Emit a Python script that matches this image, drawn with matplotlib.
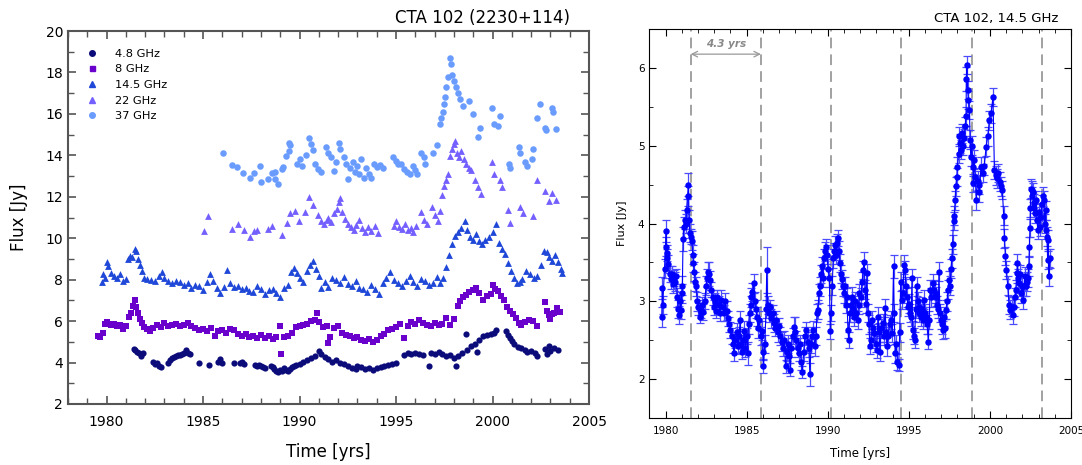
import matplotlib
matplotlib.use("Agg")
import matplotlib.pyplot as plt
from matplotlib.lines import Line2D
from matplotlib.ticker import MultipleLocator

# ---- left panel: multi-frequency light curves (offset for display) ----
t48 = [1981.40, 1981.50, 1981.60, 1981.70, 1981.80, 1981.90, 1982.40, 1982.50, 1982.60, 1982.70, 1982.80,
       1983.20, 1983.30, 1983.40, 1983.50, 1983.60, 1983.70, 1983.80, 1983.90, 1984.00, 1984.10, 1984.20, 1984.30,
       1984.80, 1985.30, 1985.80, 1985.90, 1986.00, 1986.60, 1986.90, 1987.00, 1987.10,
       1987.70, 1987.80, 1987.90, 1988.00, 1988.10, 1988.20, 1988.50, 1988.60, 1988.70, 1988.80, 1988.90,
       1989.00, 1989.10, 1989.20, 1989.30, 1989.40, 1989.50, 1989.60, 1989.70, 1989.80, 1990.00, 1990.20,
       1990.40, 1990.60, 1990.80, 1991.00, 1991.10, 1991.30, 1991.50, 1991.70, 1991.90, 1992.10, 1992.30,
       1992.50, 1992.70, 1992.90, 1993.00, 1993.20, 1993.40, 1993.60, 1993.80, 1994.00, 1994.20, 1994.40,
       1994.60, 1994.80, 1995.00, 1995.40, 1995.60, 1995.80, 1996.00, 1996.20, 1996.40, 1996.70, 1996.80,
       1997.00, 1997.20, 1997.40, 1997.60, 1997.80, 1998.00, 1998.10, 1998.20, 1998.40, 1998.60, 1998.70,
       1998.90, 1999.10, 1999.20, 1999.30, 1999.50, 1999.70, 1999.90, 2000.10, 2000.20, 2000.70, 2000.80,
       2000.90, 2001.00, 2001.10, 2001.30, 2001.50, 2001.70, 2001.80, 2002.00, 2002.20, 2002.30, 2002.70,
       2002.80, 2002.90, 2003.00, 2003.20, 2003.40]
f48 = [4.65, 4.60, 4.50, 4.45, 4.30, 4.45, 4.05, 3.95, 4.00, 3.85, 3.80,
       4.00, 4.10, 4.20, 4.25, 4.30, 4.35, 4.35, 4.40, 4.45, 4.60, 4.45, 4.40,
       4.00, 3.90, 4.05, 4.15, 4.00, 3.97, 4.00, 4.05, 3.95,
       3.90, 3.85, 3.90, 3.85, 3.80, 3.75, 3.85, 3.80, 3.70, 3.60, 3.55,
       3.65, 3.60, 3.75, 3.65, 3.60, 3.70, 3.80, 3.85, 3.90, 3.95, 4.05,
       4.10, 4.20, 4.30, 4.55, 4.40, 4.25, 4.15, 4.05, 4.10, 4.00, 3.95,
       3.85, 3.75, 3.70, 3.85, 3.80, 3.70, 3.75, 3.65, 3.75, 3.80, 3.85,
       3.90, 3.95, 4.00, 4.35, 4.45, 4.40, 4.45, 4.40, 4.35, 3.85, 4.45,
       4.40, 4.50, 4.40, 4.30, 4.35, 4.20, 3.85, 4.30, 4.45, 5.40, 4.60,
       4.80, 4.90, 4.50, 5.10, 5.30, 5.35, 5.40, 5.45, 5.55, 5.50, 5.35,
       5.20, 5.05, 4.90, 4.75, 4.70, 4.60, 4.50, 4.55, 4.45, 4.30, 4.65,
       4.40, 4.80, 4.55, 4.70, 4.60]

t8 = [1979.55, 1979.65, 1979.80, 1979.90, 1980.00, 1980.10, 1980.25, 1980.40, 1980.55, 1980.70, 1980.85, 1981.00,
      1981.15, 1981.25, 1981.35, 1981.45, 1981.55, 1981.65, 1981.75, 1981.85, 1981.95, 1982.10, 1982.25,
      1982.40, 1982.60, 1982.80, 1983.00, 1983.20, 1983.40, 1983.60, 1983.80, 1984.00, 1984.20, 1984.40,
      1984.60, 1984.80, 1985.00, 1985.20, 1985.40, 1985.60, 1985.80, 1986.00, 1986.20, 1986.40, 1986.60,
      1986.80, 1987.00, 1987.20, 1987.40, 1987.60, 1987.80, 1988.00, 1988.20, 1988.40, 1988.60, 1988.80,
      1989.00, 1989.05, 1989.20, 1989.40, 1989.60, 1989.80, 1990.00, 1990.20, 1990.40, 1990.60, 1990.80,
      1990.90, 1991.00, 1991.20, 1991.40, 1991.50, 1991.60, 1991.80, 1992.00, 1992.20, 1992.40, 1992.60,
      1992.80, 1993.00, 1993.20, 1993.40, 1993.60, 1993.80, 1994.00, 1994.20, 1994.40, 1994.60, 1994.80,
      1995.00, 1995.20, 1995.40, 1995.60, 1995.80, 1996.00, 1996.20, 1996.40, 1996.60, 1996.80, 1997.00,
      1997.20, 1997.40, 1997.60, 1997.80, 1998.00, 1998.20, 1998.30, 1998.45, 1998.60, 1998.80, 1999.00,
      1999.15, 1999.30, 1999.50, 1999.70, 1999.90, 2000.00, 2000.15, 2000.30, 2000.45, 2000.60, 2000.75,
      2000.90, 2001.05, 2001.20, 2001.35, 2001.50, 2001.70, 2001.90, 2002.10, 2002.30, 2002.70, 2002.80,
      2002.90, 2003.00, 2003.10, 2003.20, 2003.35, 2003.50]
f8 = [5.30, 5.25, 5.45, 5.85, 5.95, 5.85, 5.80, 5.85, 5.75, 5.80, 5.60, 5.75,
      6.20, 6.40, 6.75, 7.00, 6.70, 6.40, 6.10, 5.90, 5.70, 5.60, 5.50,
      5.65, 5.80, 5.70, 5.90, 5.75, 5.80, 5.85, 5.75, 5.80, 5.90, 5.75,
      5.65, 5.55, 5.60, 5.50, 5.65, 5.30, 5.50, 5.55, 5.45, 5.60, 5.55,
      5.40, 5.30, 5.40, 5.25, 5.30, 5.20, 5.35, 5.20, 5.30, 5.15, 5.25,
      5.75, 4.40, 5.25, 5.30, 5.45, 5.70, 5.75, 5.80, 5.85, 6.00, 6.05,
      6.40, 5.95, 5.70, 5.75, 4.95, 5.25, 5.65, 5.75, 5.45, 5.35, 5.30,
      5.20, 5.25, 5.10, 5.05, 5.15, 5.00, 5.10, 5.30, 5.40, 5.55, 5.60,
      5.70, 5.85, 5.20, 5.75, 5.95, 5.85, 6.05, 5.90, 5.80, 5.75, 5.90,
      5.80, 5.85, 6.15, 5.80, 6.10, 6.75, 6.95, 7.15, 7.25, 7.40, 7.50,
      7.60, 7.35, 7.00, 7.20, 7.30, 7.75, 7.55, 7.45, 7.20, 7.00, 6.70,
      6.50, 6.35, 6.15, 5.90, 5.80, 5.95, 6.05, 6.00, 5.75, 6.90, 6.50,
      6.30, 6.10, 6.35, 6.40, 6.65, 6.45]

t145 = [1979.75, 1979.80, 1979.90, 1980.00, 1980.10, 1980.25, 1980.40, 1980.55, 1980.70, 1980.85, 1981.00,
        1981.10, 1981.20, 1981.30, 1981.45, 1981.55, 1981.65, 1981.75, 1981.85, 1981.95, 1982.10,
        1982.30, 1982.50, 1982.70, 1982.85, 1983.00, 1983.20, 1983.40, 1983.60, 1983.80, 1984.00, 1984.20,
        1984.40, 1984.60, 1984.80, 1985.00, 1985.20, 1985.35, 1985.50, 1985.70, 1985.90, 1986.10, 1986.25,
        1986.40, 1986.60, 1986.80, 1987.00, 1987.20, 1987.40, 1987.60, 1987.80, 1988.00, 1988.20, 1988.40,
        1988.60, 1988.80, 1989.00, 1989.20, 1989.40, 1989.55, 1989.70, 1989.85, 1990.00, 1990.20, 1990.40,
        1990.55, 1990.70, 1990.85, 1991.00, 1991.10, 1991.30, 1991.50, 1991.70, 1991.90, 1992.10, 1992.30,
        1992.50, 1992.70, 1992.90, 1993.10, 1993.30, 1993.50, 1993.70, 1993.90, 1994.10, 1994.30, 1994.50,
        1994.70, 1994.90, 1995.10, 1995.30, 1995.50, 1995.70, 1995.90, 1996.10, 1996.30, 1996.50, 1996.70,
        1996.90, 1997.10, 1997.30, 1997.45, 1997.60, 1997.75, 1997.90, 1998.05, 1998.20, 1998.35, 1998.55,
        1998.70, 1998.85, 1999.00, 1999.15, 1999.30, 1999.45, 1999.60, 1999.80, 2000.00, 2000.20, 2000.35,
        2000.50, 2000.65, 2000.80, 2000.95, 2001.10, 2001.25, 2001.40, 2001.55, 2001.75, 2001.95, 2002.15,
        2002.30, 2002.50, 2002.65, 2002.80, 2002.95, 2003.10, 2003.25, 2003.40, 2003.55, 2003.60]
f145 = [7.90, 8.25, 8.10, 8.85, 8.65, 8.30, 8.20, 8.10, 8.25, 7.95, 8.05,
        9.00, 9.15, 9.10, 9.50, 9.40, 9.00, 8.70, 8.40, 8.10, 8.05,
        8.00, 7.95, 8.20, 8.35, 8.10, 7.95, 7.85, 7.95, 7.90, 7.75, 7.85,
        7.60, 7.75, 7.70, 7.50, 7.90, 8.25, 7.95, 7.60, 7.35, 7.65, 8.45,
        7.85, 7.65, 7.70, 7.55, 7.60, 7.45, 7.40, 7.70, 7.55, 7.30, 7.50,
        7.55, 7.35, 7.15, 7.60, 7.75, 8.35, 8.55, 8.30, 8.10, 7.90, 8.40,
        8.70, 8.90, 8.50, 8.20, 7.60, 7.90, 7.65, 8.10, 8.00, 7.85, 8.15,
        7.80, 7.70, 7.95, 7.60, 7.55, 7.40, 7.75, 7.55, 7.30, 7.85, 8.10,
        8.35, 8.00, 7.85, 7.70, 7.95, 8.20, 7.90, 7.70, 8.05, 7.95, 7.75,
        7.85, 8.15, 7.85, 8.10, 8.60, 9.20, 9.70, 10.10, 10.30, 10.50, 10.85,
        10.40, 10.05, 9.90, 10.20, 9.85, 9.70, 9.90, 10.05, 10.30, 10.70, 9.75,
        9.50, 9.25, 8.80, 8.40, 8.10, 7.85, 7.90, 8.05, 8.40, 8.25, 8.10,
        8.20, 8.70, 9.40, 9.35, 9.10, 8.90, 9.20, 8.85, 8.50, 8.30]

t22 = [1985.07, 1985.28, 1986.50, 1986.80, 1987.10, 1987.45, 1987.65, 1987.80, 1988.35, 1988.55, 1989.10,
       1989.35, 1989.50, 1989.75, 1989.95, 1990.30, 1990.50, 1990.70, 1990.95, 1991.10, 1991.25, 1991.40,
       1991.50, 1991.65, 1991.80, 1991.95, 1992.05, 1992.12, 1992.20, 1992.35, 1992.50, 1992.65, 1992.80,
       1992.95, 1993.10, 1993.25, 1993.40, 1993.55, 1993.70, 1993.90, 1994.05, 1994.90, 1995.00, 1995.15,
       1995.30, 1995.45, 1995.60, 1995.75, 1995.90, 1996.05, 1996.30, 1996.45, 1996.60, 1996.85, 1997.00,
       1997.15, 1997.30, 1997.40, 1997.50, 1997.60, 1997.70, 1997.80, 1997.90, 1998.00, 1998.06, 1998.15,
       1998.25, 1998.35, 1998.50, 1998.65, 1998.80, 1998.90, 1999.10, 1999.25, 1999.40, 1999.95, 2000.05,
       2000.40, 2000.50, 2000.80, 2000.90, 2001.40, 2001.60, 2002.10, 2002.30, 2002.70, 2002.90, 2003.10,
       2003.30]
f22 = [10.37, 11.06, 10.43, 10.70, 10.40, 10.05, 10.35, 10.40, 10.45, 10.60, 10.15,
       10.75, 11.20, 11.30, 10.85, 11.25, 11.97, 11.58, 11.10, 10.85, 10.70, 10.90,
       11.00, 10.80, 11.20, 11.40, 11.75, 11.95, 11.25, 10.95, 10.70, 10.55, 10.40,
       10.65, 10.90, 10.50, 10.30, 10.55, 10.35, 10.60, 10.25, 10.60, 10.85, 10.55,
       10.45, 10.70, 10.40, 10.50, 10.30, 10.60, 11.25, 10.90, 10.70, 11.50, 11.10,
       10.85, 11.30, 12.10, 12.50, 12.80, 13.10, 13.95, 14.30, 14.55, 14.70, 14.10,
       13.90, 14.20, 13.80, 13.60, 13.40, 13.30, 12.80, 12.45, 12.15, 13.67, 13.10,
       12.80, 12.45, 11.35, 10.75, 11.50, 11.20, 11.05, 12.80, 12.30, 11.80, 12.20,
       11.85]

t37 = [1986.04, 1986.50, 1986.77, 1987.07, 1987.43, 1987.64, 1987.95, 1987.99, 1988.37, 1988.56, 1988.72,
       1988.75, 1988.89, 1989.10, 1989.15, 1989.30, 1989.45, 1989.47, 1989.50, 1989.85, 1990.00, 1990.15,
       1990.33, 1990.47, 1990.60, 1990.68, 1990.80, 1990.95, 1991.10, 1991.37, 1991.50, 1991.65, 1991.80,
       1991.90, 1992.06, 1992.12, 1992.30, 1992.40, 1992.50, 1992.60, 1992.75, 1992.85, 1993.00, 1993.10,
       1993.20, 1993.36, 1993.45, 1993.60, 1993.70, 1993.85, 1994.00, 1994.15, 1994.30, 1994.85, 1995.00,
       1995.10, 1995.25, 1995.40, 1995.55, 1995.70, 1995.90, 1996.00, 1996.10, 1996.30, 1996.45, 1996.50,
       1996.90, 1997.10, 1997.27, 1997.35, 1997.44, 1997.48, 1997.55, 1997.60, 1997.68, 1997.79, 1997.85,
       1997.92, 1998.00, 1998.10, 1998.20, 1998.30, 1998.45, 1998.80, 1999.00, 1999.25, 1999.37, 1999.99,
       2000.06, 2000.30, 2000.40, 2000.85, 2000.90, 2001.38, 2001.42, 2001.70, 2001.80, 2002.05, 2002.10,
       2002.30, 2002.48, 2002.70, 2002.78, 2003.07, 2003.15, 2003.30]
f37 = [14.13, 13.53, 13.43, 13.17, 12.90, 13.15, 13.50, 12.73, 12.86, 13.13, 13.20,
       12.86, 12.60, 13.33, 13.43, 13.98, 14.20, 14.58, 14.50, 13.60, 13.80, 13.50,
       14.00, 14.85, 14.56, 14.24, 13.60, 13.35, 13.20, 14.40, 14.10, 13.90, 13.25,
       13.70, 14.60, 14.30, 13.90, 13.60, 12.85, 13.40, 13.70, 13.20, 13.50, 13.10,
       13.80, 12.90, 13.40, 13.10, 12.90, 13.60, 13.45, 13.55, 13.40, 13.90, 13.75,
       13.60, 13.60, 13.35, 13.20, 13.10, 13.50, 13.30, 13.10, 14.10, 13.90, 13.60,
       14.10, 14.50, 15.50, 15.80, 16.10, 16.50, 16.80, 17.30, 17.80, 18.70, 18.40,
       17.90, 17.60, 17.30, 17.00, 16.70, 16.40, 16.60, 16.00, 14.90, 15.30, 16.30,
       15.50, 15.40, 15.90, 13.60, 13.40, 14.40, 14.10, 13.70, 13.50, 13.80, 14.30,
       15.80, 16.50, 15.30, 15.20, 16.30, 16.10, 15.25]

# ---- right panel: 14.5 GHz flux with errors ----
tr = [1979.77, 1979.80, 1979.83, 1979.94, 1980.00, 1980.04, 1980.08, 1980.12, 1980.18, 1980.25, 1980.32, 1980.40,
      1980.45, 1980.52, 1980.60, 1980.66, 1980.72, 1980.78, 1980.84, 1980.90, 1980.95, 1981.00, 1981.04, 1981.08,
      1981.12, 1981.18, 1981.25, 1981.30, 1981.36, 1981.41, 1981.45, 1981.50, 1981.56, 1981.62, 1981.68, 1981.72,
      1981.78, 1981.84, 1981.90, 1981.96, 1982.02, 1982.10, 1982.18, 1982.26, 1982.34, 1982.42, 1982.50, 1982.56,
      1982.62, 1982.70, 1982.76, 1982.82, 1982.90, 1982.96, 1983.04, 1983.12, 1983.20, 1983.28, 1983.36, 1983.44,
      1983.52, 1983.60, 1983.68, 1983.76, 1983.84, 1983.92, 1984.00, 1984.08, 1984.16, 1984.22, 1984.30, 1984.38,
      1984.46, 1984.54, 1984.60, 1984.66, 1984.72, 1984.80, 1984.86, 1984.92, 1985.00, 1985.06, 1985.12, 1985.18,
      1985.24, 1985.30, 1985.36, 1985.44, 1985.50, 1985.56, 1985.64, 1985.70, 1985.78, 1985.86, 1985.92, 1985.98,
      1986.04, 1986.12, 1986.20, 1986.24, 1986.30, 1986.36, 1986.44, 1986.52, 1986.60, 1986.68, 1986.76, 1986.84,
      1986.92, 1987.00, 1987.08, 1987.16, 1987.24, 1987.32, 1987.40, 1987.48, 1987.56, 1987.64, 1987.70, 1987.76,
      1987.84, 1987.92, 1987.98, 1988.06, 1988.14, 1988.22, 1988.30, 1988.36, 1988.44, 1988.52, 1988.60, 1988.68,
      1988.76, 1988.84, 1988.90, 1988.98, 1989.06, 1989.12, 1989.20, 1989.28, 1989.34, 1989.40, 1989.46, 1989.52,
      1989.58, 1989.64, 1989.70, 1989.76, 1989.82, 1989.90, 1989.96, 1990.02, 1990.10, 1990.16, 1990.22, 1990.28,
      1990.34, 1990.40, 1990.46, 1990.52, 1990.58, 1990.63, 1990.70, 1990.76, 1990.82, 1990.88, 1990.94, 1991.00,
      1991.06, 1991.12, 1991.18, 1991.25, 1991.30, 1991.36, 1991.42, 1991.48, 1991.56, 1991.62, 1991.70, 1991.76,
      1991.84, 1991.90, 1991.96, 1992.04, 1992.12, 1992.20, 1992.25, 1992.30, 1992.36, 1992.42, 1992.48, 1992.54,
      1992.60, 1992.66, 1992.72, 1992.80, 1992.88, 1992.96, 1993.02, 1993.10, 1993.16, 1993.22, 1993.30, 1993.38,
      1993.46, 1993.54, 1993.60, 1993.66, 1993.74, 1993.82, 1993.90, 1993.98, 1994.06, 1994.10, 1994.16, 1994.24,
      1994.30, 1994.38, 1994.44, 1994.50, 1994.56, 1994.64, 1994.70, 1994.76, 1994.82, 1994.90, 1994.96, 1995.02,
      1995.08, 1995.14, 1995.20, 1995.24, 1995.30, 1995.36, 1995.42, 1995.48, 1995.54, 1995.60, 1995.66, 1995.74,
      1995.82, 1995.88, 1995.94, 1996.00, 1996.08, 1996.14, 1996.20, 1996.26, 1996.32, 1996.40, 1996.48, 1996.56,
      1996.64, 1996.70, 1996.76, 1996.82, 1996.86, 1996.92, 1996.98, 1997.04, 1997.10, 1997.16, 1997.22, 1997.30,
      1997.36, 1997.42, 1997.48, 1997.54, 1997.60, 1997.66, 1997.70, 1997.76, 1997.80, 1997.86, 1997.90, 1997.96,
      1998.00, 1998.07, 1998.12, 1998.18, 1998.24, 1998.30, 1998.36, 1998.42, 1998.48, 1998.53, 1998.55, 1998.58,
      1998.63, 1998.68, 1998.74, 1998.78, 1998.82, 1998.88, 1998.95, 1998.98, 1999.02, 1999.10, 1999.16, 1999.24,
      1999.30, 1999.36, 1999.45, 1999.55, 1999.65, 1999.77, 1999.87, 1999.97, 2000.08, 2000.19, 2000.28, 2000.36,
      2000.44, 2000.52, 2000.60, 2000.70, 2000.77, 2000.85, 2000.90, 2000.96, 2001.02, 2001.10, 2001.18, 2001.26,
      2001.34, 2001.40, 2001.46, 2001.54, 2001.60, 2001.66, 2001.70, 2001.76, 2001.82, 2001.88, 2001.94, 2002.00,
      2002.05, 2002.10, 2002.16, 2002.22, 2002.28, 2002.34, 2002.40, 2002.44, 2002.47, 2002.50, 2002.53, 2002.57,
      2002.62, 2002.66, 2002.70, 2002.74, 2002.78, 2002.84, 2002.90, 2002.96, 2003.02, 2003.08, 2003.14, 2003.20,
      2003.26, 2003.32, 2003.38, 2003.44, 2003.48, 2003.52, 2003.56, 2003.60, 2003.64, 2003.68]
sr = [2.80, 3.17, 2.95, 3.42, 3.70, 3.90, 3.55, 3.62, 3.48, 3.35, 3.28, 3.35,
      3.22, 3.30, 3.25, 3.32, 3.05, 2.90, 2.82, 3.00, 2.89, 3.10, 3.20, 3.80,
      3.95, 4.05, 4.00, 4.18, 4.35, 4.50, 4.05, 3.88, 3.83, 3.78, 3.60, 3.49,
      3.38, 3.25, 3.19, 3.00, 2.92, 2.80, 2.88, 2.95, 2.86, 3.00, 3.20, 3.30,
      3.38, 3.35, 3.27, 3.15, 3.05, 2.92, 3.00, 2.88, 3.05, 2.95, 2.85, 3.02,
      2.92, 2.85, 3.00, 2.88, 2.78, 2.70, 2.63, 2.55, 2.45, 2.33, 2.50, 2.60,
      2.42, 2.55, 2.76, 2.45, 2.35, 2.50, 2.62, 2.40, 2.55, 2.33, 2.70, 2.85,
      2.95, 3.05, 3.12, 3.23, 3.00, 2.90, 2.80, 2.65, 2.76, 2.55, 2.62, 2.35,
      2.16, 2.45, 2.90, 3.40, 2.95, 2.85, 2.92, 2.78, 2.85, 2.72, 2.65, 2.76,
      2.60, 2.68, 2.55, 2.48, 2.40, 2.50, 2.16, 2.35, 2.45, 2.30, 2.12, 2.40,
      2.55, 2.67, 2.60, 2.50, 2.40, 2.33, 2.45, 2.22, 2.09, 2.35, 2.55, 2.63,
      2.48, 2.40, 2.06, 2.45, 2.55, 2.63, 2.42, 2.55, 2.85, 2.89, 3.10, 3.19,
      3.35, 3.45, 3.30, 3.55, 3.64, 3.70, 3.60, 3.42, 3.30, 2.61, 2.85, 3.20,
      3.55, 3.65, 3.72, 3.60, 3.75, 3.81, 3.65, 3.49, 3.35, 3.28, 3.19, 3.10,
      3.19, 2.95, 3.05, 2.63, 2.50, 2.85, 2.95, 3.06, 2.90, 2.80, 3.00, 2.85,
      2.76, 2.95, 3.10, 3.05, 3.25, 3.40, 3.51, 3.15, 2.97, 3.36, 2.85, 2.70,
      2.42, 2.50, 2.76, 2.65, 2.59, 2.45, 2.37, 2.80, 2.60, 2.35, 2.65, 2.72,
      2.55, 2.91, 2.60, 2.42, 2.55, 2.70, 2.76, 2.59, 3.45, 2.85, 2.33, 2.45,
      2.22, 2.18, 2.60, 3.25, 3.02, 3.10, 3.47, 3.40, 3.19, 3.05, 2.93, 2.97,
      2.85, 2.80, 3.30, 2.63, 2.55, 2.50, 2.90, 3.19, 3.00, 2.93, 2.85, 2.80,
      2.90, 2.76, 3.02, 2.85, 2.80, 2.70, 2.48, 2.76, 3.15, 3.05, 3.23, 3.15,
      3.10, 3.06, 2.95, 2.90, 3.38, 2.85, 2.76, 2.70, 2.63, 2.80, 2.65, 2.89,
      3.00, 3.15, 3.27, 3.20, 3.42, 3.55, 3.73, 4.10, 4.03, 4.30, 4.48, 4.60,
      4.73, 4.90, 5.12, 5.03, 4.95, 5.16, 5.00, 5.10, 5.25, 5.38, 5.86, 6.04,
      5.72, 5.59, 5.46, 5.08, 4.86, 5.00, 4.73, 4.52, 4.82, 4.60, 4.30, 4.55,
      4.50, 4.40, 4.73, 4.65, 4.74, 4.99, 5.12, 5.33, 5.42, 5.63, 4.69, 4.62,
      4.58, 4.65, 4.54, 4.48, 4.43, 4.10, 3.81, 3.58, 3.40, 3.20, 2.95, 2.89,
      2.93, 2.82, 2.93, 3.05, 3.15, 3.36, 3.49, 3.30, 3.23, 3.35, 3.10, 3.19,
      3.02, 3.19, 3.32, 3.19, 3.25, 3.30, 3.45, 3.70, 3.94, 4.20, 4.45, 4.43,
      4.35, 4.40, 4.26, 4.20, 4.13, 4.30, 4.05, 3.92, 4.15, 3.96, 4.09, 4.25,
      4.35, 4.30, 4.00, 4.17, 3.92, 3.83, 3.53, 3.79, 3.32, 3.55]
er = [0.13, 0.14, 0.12, 0.12, 0.12, 0.14, 0.12, 0.10, 0.12, 0.10, 0.12, 0.10,
      0.12, 0.10, 0.12, 0.10, 0.12, 0.12, 0.12, 0.12, 0.12, 0.12, 0.12, 0.15,
      0.14, 0.12, 0.12, 0.13, 0.13, 0.15, 0.12, 0.12, 0.10, 0.12, 0.12, 0.12,
      0.12, 0.12, 0.12, 0.12, 0.10, 0.08, 0.10, 0.10, 0.10, 0.10, 0.12, 0.12,
      0.12, 0.15, 0.12, 0.10, 0.10, 0.10, 0.10, 0.10, 0.10, 0.12, 0.10, 0.12,
      0.10, 0.10, 0.10, 0.12, 0.10, 0.10, 0.10, 0.10, 0.12, 0.10, 0.10, 0.12,
      0.10, 0.12, 0.12, 0.12, 0.10, 0.12, 0.12, 0.12, 0.10, 0.15, 0.12, 0.12,
      0.12, 0.12, 0.12, 0.12, 0.12, 0.12, 0.12, 0.12, 0.12, 0.12, 0.12, 0.10,
      0.08, 0.12, 0.12, 0.30, 0.12, 0.12, 0.10, 0.12, 0.10, 0.12, 0.10, 0.12,
      0.12, 0.10, 0.12, 0.12, 0.10, 0.12, 0.08, 0.12, 0.12, 0.10, 0.08, 0.12,
      0.10, 0.12, 0.20, 0.12, 0.12, 0.10, 0.12, 0.10, 0.08, 0.12, 0.12, 0.10,
      0.12, 0.12, 0.15, 0.12, 0.12, 0.12, 0.12, 0.12, 0.12, 0.12, 0.12, 0.12,
      0.12, 0.12, 0.12, 0.12, 0.12, 0.10, 0.12, 0.12, 0.12, 0.10, 0.10, 0.12,
      0.12, 0.10, 0.12, 0.12, 0.12, 0.10, 0.12, 0.12, 0.12, 0.12, 0.12, 0.12,
      0.12, 0.10, 0.12, 0.10, 0.10, 0.12, 0.12, 0.12, 0.12, 0.12, 0.12, 0.12,
      0.12, 0.12, 0.12, 0.12, 0.12, 0.12, 0.12, 0.12, 0.12, 0.12, 0.12, 0.12,
      0.10, 0.10, 0.12, 0.12, 0.12, 0.10, 0.10, 0.12, 0.12, 0.12, 0.12, 0.12,
      0.12, 0.12, 0.12, 0.12, 0.12, 0.12, 0.12, 0.12, 0.15, 0.12, 0.12, 0.12,
      0.10, 0.08, 0.12, 0.12, 0.12, 0.12, 0.12, 0.12, 0.12, 0.12, 0.12, 0.12,
      0.12, 0.12, 0.12, 0.12, 0.10, 0.10, 0.12, 0.12, 0.12, 0.12, 0.12, 0.12,
      0.12, 0.12, 0.12, 0.12, 0.12, 0.12, 0.10, 0.12, 0.12, 0.12, 0.12, 0.12,
      0.12, 0.12, 0.12, 0.12, 0.12, 0.12, 0.12, 0.12, 0.12, 0.12, 0.12, 0.12,
      0.12, 0.12, 0.12, 0.12, 0.12, 0.12, 0.12, 0.12, 0.12, 0.12, 0.12, 0.12,
      0.12, 0.12, 0.12, 0.12, 0.12, 0.12, 0.12, 0.12, 0.12, 0.12, 0.15, 0.12,
      0.12, 0.12, 0.12, 0.12, 0.12, 0.12, 0.12, 0.12, 0.12, 0.12, 0.12, 0.12,
      0.12, 0.12, 0.12, 0.12, 0.12, 0.12, 0.12, 0.12, 0.12, 0.12, 0.12, 0.12,
      0.12, 0.12, 0.12, 0.12, 0.12, 0.12, 0.12, 0.12, 0.12, 0.12, 0.12, 0.12,
      0.12, 0.12, 0.12, 0.12, 0.12, 0.12, 0.12, 0.12, 0.12, 0.12, 0.12, 0.12,
      0.12, 0.12, 0.12, 0.12, 0.12, 0.12, 0.12, 0.12, 0.12, 0.12, 0.12, 0.12,
      0.12, 0.12, 0.12, 0.12, 0.12, 0.12, 0.12, 0.12, 0.12, 0.12, 0.12, 0.12,
      0.12, 0.12, 0.12, 0.12, 0.12, 0.12, 0.12, 0.12, 0.12, 0.12]

# flare epochs (dashed lines) and period label
flares = [1981.55, 1985.88, 1990.21, 1994.54, 1998.87, 2003.20]

c48, c8, c145, c22, c37 = "#0b0b7a", "#6a00cc", "#1f48d8", "#7460ff", "#6a9cff"

fig = plt.figure(figsize=(10.82, 4.65), dpi=100)

# ---------------- left panel ----------------
ax = fig.add_axes([0.0628, 0.1312, 0.4816, 0.8021])
ax.scatter(t48, f48, s=20, marker="o", color=c48, linewidths=0)
ax.scatter(t8, f8, s=18, marker="s", color=c8, linewidths=0)
ax.scatter(t145, f145, s=24, marker="^", color=c145, linewidths=0)
ax.scatter(t22, f22, s=24, marker="^", color=c22, linewidths=0)
ax.scatter(t37, f37, s=22, marker="o", color=c37, linewidths=0)

ax.set_xlim(1978, 2005)
ax.set_ylim(2, 20)
ax.xaxis.set_major_locator(MultipleLocator(5))
ax.xaxis.set_minor_locator(MultipleLocator(1))
ax.yaxis.set_major_locator(MultipleLocator(2))
ax.yaxis.set_minor_locator(MultipleLocator(1))
ax.tick_params(which="both", direction="in", top=True, right=True, labelsize=10, color="#555555")
ax.tick_params(which="major", length=6, width=1.2)
ax.tick_params(which="minor", length=4, width=1.0)
ax.tick_params(axis="x", pad=8)
for sp in ax.spines.values():
    sp.set_color("#555555")
    sp.set_linewidth(1.5)
ax.set_xlabel("Time [yrs]", fontsize=12, labelpad=10)
ax.set_ylabel("Flux [Jy]", fontsize=12)
ax.yaxis.set_label_coords(-0.077, 0.5)
ax.text(0.9635, 1.012, "CTA 102 (2230+114)", transform=ax.transAxes, ha="right", va="bottom", fontsize=12)

handles = [
    Line2D([], [], ls="none", marker="o", ms=4, color=c48),
    Line2D([], [], ls="none", marker="s", ms=3.6, color=c8),
    Line2D([], [], ls="none", marker="^", ms=4.2, color=c145),
    Line2D([], [], ls="none", marker="^", ms=4.2, color=c22),
    Line2D([], [], ls="none", marker="o", ms=4, color=c37),
]
ax.legend(handles, ["4.8 GHz", "8 GHz", "14.5 GHz", "22 GHz", "37 GHz"], loc="upper left",
          bbox_to_anchor=(0.026, 0.965), frameon=False, fontsize=8.2, handlelength=1.0,
          handletextpad=1.5, labelspacing=0.5, borderaxespad=0.0)

# ---------------- right panel ----------------
bx = fig.add_axes([0.6001, 0.1017, 0.3897, 0.8353])
bx.errorbar(tr, sr, yerr=er, fmt="o", color="#0000ff", ms=3.6, ecolor="#4a4aff", elinewidth=0.9,
            capsize=3, capthick=0.9, zorder=3)
bx.plot(tr, sr, color="#0000ff", lw=0.8, zorder=3)
for ep in flares:
    bx.axvline(ep, color="#888888", ls=(0, (7, 4)), lw=1.1, zorder=1)
bx.annotate("", xy=(flares[0], 6.18), xytext=(flares[1], 6.18),
            arrowprops=dict(arrowstyle="<->", color="#999999", lw=0.9, shrinkA=0, shrinkB=0))
bx.text((flares[0] + flares[1]) / 2, 6.24, "4.3 yrs", ha="center", va="bottom", fontsize=7.5,
        style="italic", fontweight="bold", color="#888888")

bx.set_xlim(1979, 2005)
bx.set_ylim(1.5, 6.5)
bx.xaxis.set_major_locator(MultipleLocator(5))
bx.xaxis.set_minor_locator(MultipleLocator(1))
bx.yaxis.set_major_locator(MultipleLocator(1))
bx.yaxis.set_minor_locator(MultipleLocator(0.5))
bx.tick_params(which="both", direction="in", top=True, right=True, labelsize=7.5)
bx.tick_params(which="major", length=5)
bx.tick_params(which="minor", length=3)
bx.tick_params(axis="x", pad=6)
bx.set_xlabel("Time [yrs]", fontsize=8.5, labelpad=8)
bx.set_ylabel("Flux [Jy]", fontsize=8, labelpad=8)
bx.text(0.97, 1.012, "CTA 102, 14.5 GHz", transform=bx.transAxes, ha="right", va="bottom", fontsize=9.5)

fig.savefig("out.png", dpi=100)
